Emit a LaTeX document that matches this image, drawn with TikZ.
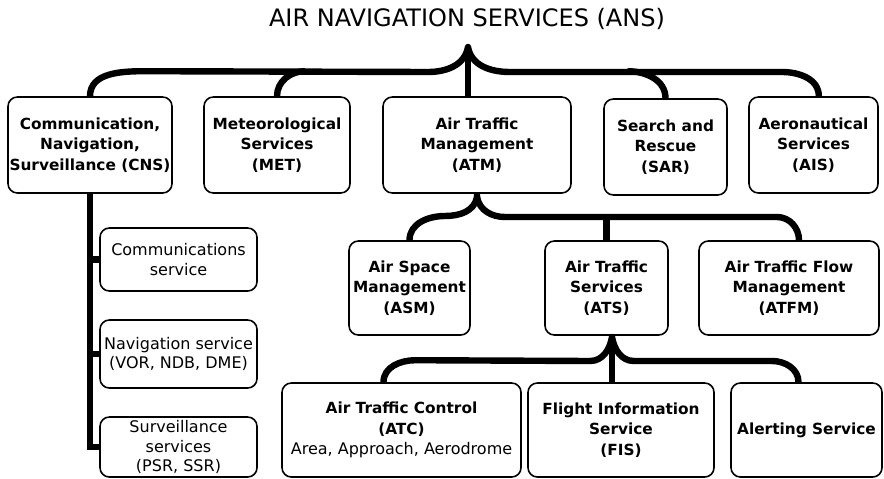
\documentclass[tikz,border=0pt]{standalone}
\usepackage{fontspec}
\setmainfont{DejaVu Sans}

\begin{document}
\begin{tikzpicture}[x=0.75pt, y=-0.75pt,
	box/.style={draw, line width=1.2pt, rounded corners=7pt, align=center, inner sep=0pt,
		font=\fontsize{11.5}{15.5}\selectfont\bfseries},
	subbox/.style={box, font=\fontsize{12}{14.5}\selectfont},
	bus/.style={line width=4.8pt, line join=round}]
		
		%Canvas
		\fill[white] (0,0) rectangle (884,478);
		\useasboundingbox (0,0) rectangle (884,478);
		
		%Title
		\node (title) at (467,27) [anchor=base, font=\fontsize{18}{20}\selectfont]{AIR NAVIGATION SERVICES (ANS)};
		
		%First level
		\node (cns) at (90,145) [box, minimum width=123pt, minimum height=72pt]{Communication,\\Navigation,\\Surveillance (CNS)};
		\node (met) at (277,145) [box, minimum width=109.5pt, minimum height=72pt]{Meteorological\\Services\\(MET)};
		\node (atm) at (477,145) [box, minimum width=141pt, minimum height=72pt]{Air Traffic\\Management\\(ATM)};
		\node (sar) at (665.5,147) [box, minimum width=92.25pt, minimum height=72pt]{Search and\\Rescue\\(SAR)};
		\node (ais) at (813.5,145) [box, minimum width=96.75pt, minimum height=72pt]{Aeronautical\\Services\\(AIS)};
		
		%CNS services
		\node (com) at (178.5,259.5) [subbox, minimum width=117.75pt, minimum height=47.25pt]{Communications\\service};
		\node (nav) at (178.5,354) [subbox, minimum width=117.75pt, minimum height=51pt]{Navigation service\\(VOR, NDB, DME)};
		\node (sur) at (178.5,447) [subbox, minimum width=117.75pt, minimum height=45pt]{Surveillance\\services\\(PSR, SSR)};
		
		%Second level
		\node (asm) at (409.5,288) [box, minimum width=90.75pt, minimum height=70.5pt]{Air Space\\Management\\(ASM)};
		\node (ats) at (606.5,288) [box, minimum width=92.25pt, minimum height=70.5pt]{Air Traffic\\Services\\(ATS)};
		\node (atfm) at (789,288) [box, minimum width=135pt, minimum height=70.5pt]{Air Traffic Flow\\Management\\(ATFM)};
		
		%Third level
		\node (atc) at (401.5,430) [box, minimum width=179.25pt, minimum height=70.5pt]{Air Traffic Control\\(ATC)\\{\mdseries\fontsize{12}{14}\selectfont Area, Approach, Aerodrome}};
		\node (fis) at (621,430) [box, minimum width=139.5pt, minimum height=70.5pt]{Flight Information\\Service\\(FIS)};
		\node (alert) at (806.5,430) [box, minimum width=113.25pt, minimum height=70.5pt]{Alerting Service};
		
		%Hubs
		\coordinate (topHub) at (468,47);
		\coordinate (atmHub) at (477,197);
		\coordinate (atsHub) at (612,337);
		
		%Links from ANS
		\draw[bus] (cns.north) to[out=90,in=180] ++(55,-25) -- (428,72) to[out=0,in=-100] (topHub)
			to[out=-80,in=180] (510,72) -- (782,72) to[out=0,in=90] ([xshift=4pt]ais.north);
		\draw[bus] (topHub) -- (topHub |- atm.north);
		\draw[bus] (met.north) to[out=90,in=180] ++(28,-25);
		\draw[bus] (sar.north) to[out=90,in=0] ++(-38,-27);
		
		%Links from CNS
		\draw[bus, line join=miter] (cns.south) -- (cns.south |- sur.west) -- (sur.west);
		\draw[bus] (com.west -| cns.south) -- (com.west);
		\draw[bus] (nav.west -| cns.south) -- (nav.west);
		
		%Links from ATM
		\draw[bus] (atm.south) -- (atmHub) to[out=-100,in=0] (445,216) to[out=180,in=90] (asm.north);
		\draw[bus] (atmHub) to[out=-80,in=180] (505,217) -- (777,217) to[out=0,in=90] ([xshift=7.5pt]atfm.north);
		\draw[bus] (ats.north) -- (ats.north |- 0,217);
		
		%Links from ATS
		\draw[bus] ([xshift=-13.5pt]atc.north) to[out=90,in=180] ++(32,-22) -- (590,361) to[out=0,in=-100] (atsHub)
			to[out=-80,in=180] (634,361) -- (772,361) to[out=0,in=90] ([xshift=-6pt]alert.north);
		\draw[bus] (atsHub) -- (atsHub |- fis.north);
		
		\end{tikzpicture}
\end{document}
